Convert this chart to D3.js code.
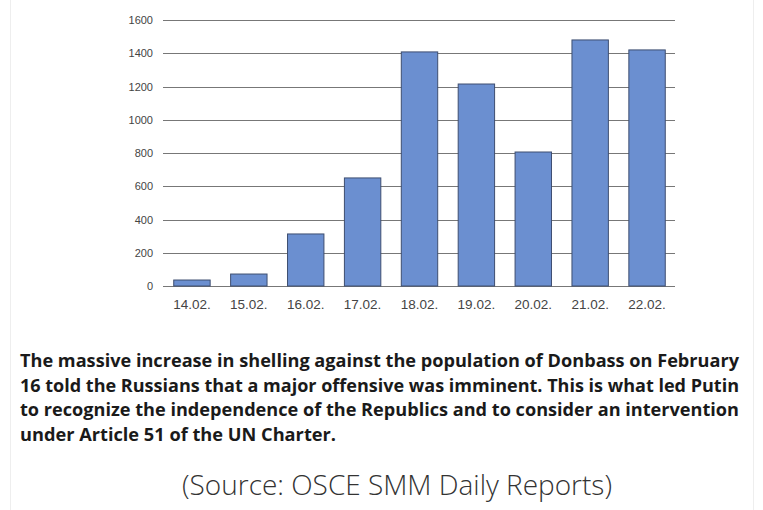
<!DOCTYPE html>
<html>
<head>
<meta charset="utf-8">
<script src="https://cdn.jsdelivr.net/npm/d3@7"></script>
<style>
  body { margin: 0; background: #fff; }
  svg { display: block; }
</style>
</head>
<body>
<svg id="chart" width="763" height="510"></svg>
<script>
// chart data
const days = ["14.02.", "15.02.", "16.02.", "17.02.", "18.02.", "19.02.", "20.02.", "21.02.", "22.02."]
const shelling = [36, 72, 313, 650, 1408, 1215, 806, 1480, 1420]
const yTicks = [0, 200, 400, 600, 800, 1000, 1200, 1400, 1600]

const caption = [
    "The massive increase in shelling against the population of Donbass on February",
    "16 told the Russians that a major offensive was imminent. This is what led Putin",
    "to recognize the independence of the Republics and to consider an intervention",
    "under Article 51 of the UN Charter."
]
const captionWidths = [719, 719, 719, 316]
const source = "(Source: OSCE SMM Daily Reports)"

const svg = d3.select("#chart")

// faint page borders
svg.append("line").attr("x1", 10.5).attr("x2", 10.5).attr("y1", 0).attr("y2", 510).attr("stroke", "#eee")
svg.append("line").attr("x1", 753.5).attr("x2", 753.5).attr("y1", 0).attr("y2", 510).attr("stroke", "#eee")

const x = d3.scaleBand().domain(days).range([163.5, 675.5]).paddingInner(0.36).paddingOuter(0.18)
const y = d3.scaleLinear().domain([0, 1600]).range([286, 20])

// gridlines
svg.append("g")
    .selectAll("line")
    .data(yTicks)
    .join("line")
    .attr("x1", 163).attr("x2", 675)
    .attr("y1", d => Math.round(y(d)) + 0.5).attr("y2", d => Math.round(y(d)) + 0.5)
    .attr("stroke", "#777").attr("stroke-width", 1)

// y labels
svg.append("g")
    .selectAll("text")
    .data(yTicks)
    .join("text")
    .attr("x", 153).attr("y", d => y(d) + 4)
    .attr("text-anchor", "end")
    .attr("font-family", "Liberation Sans, Arial, sans-serif")
    .attr("font-size", 11)
    .attr("fill", "#444")
    .text(d => d)

// bars
svg.append("g")
    .selectAll("rect")
    .data(shelling)
    .join("rect")
    .attr("x", (d, i) => x(days[i]))
    .attr("y", d => y(d))
    .attr("width", x.bandwidth())
    .attr("height", d => y(0) - y(d))
    .attr("fill", "#6b8fd0")
    .attr("stroke", "#3e4e70")
    .attr("stroke-width", 1)

// x labels
svg.append("g")
    .selectAll("text")
    .data(days)
    .join("text")
    .attr("x", d => x(d) + x.bandwidth() / 2)
    .attr("y", 309)
    .attr("text-anchor", "middle")
    .attr("font-family", "Liberation Sans, Arial, sans-serif")
    .attr("font-size", 13.5)
    .attr("fill", "#444")
    .text(d => d)

// caption
svg.append("g")
    .selectAll("text")
    .data(caption)
    .join("text")
    .attr("x", 20)
    .attr("y", (d, i) => 367 + i * 24.5)
    .attr("font-family", "Open Sans, sans-serif")
    .attr("font-weight", 700)
    .attr("font-size", 17.5)
    .attr("fill", "#1a1a1a")
    .attr("textLength", (d, i) => captionWidths[i])
    .attr("lengthAdjust", "spacingAndGlyphs")
    .text(d => d)

svg.append("text")
    .attr("x", 397).attr("y", 495)
    .attr("text-anchor", "middle")
    .attr("font-family", "Open Sans, sans-serif")
    .attr("font-weight", 300)
    .attr("font-size", 27)
    .attr("fill", "#333")
    .attr("textLength", 430)
    .attr("lengthAdjust", "spacingAndGlyphs")
    .text(source)
</script>
</body>
</html>
